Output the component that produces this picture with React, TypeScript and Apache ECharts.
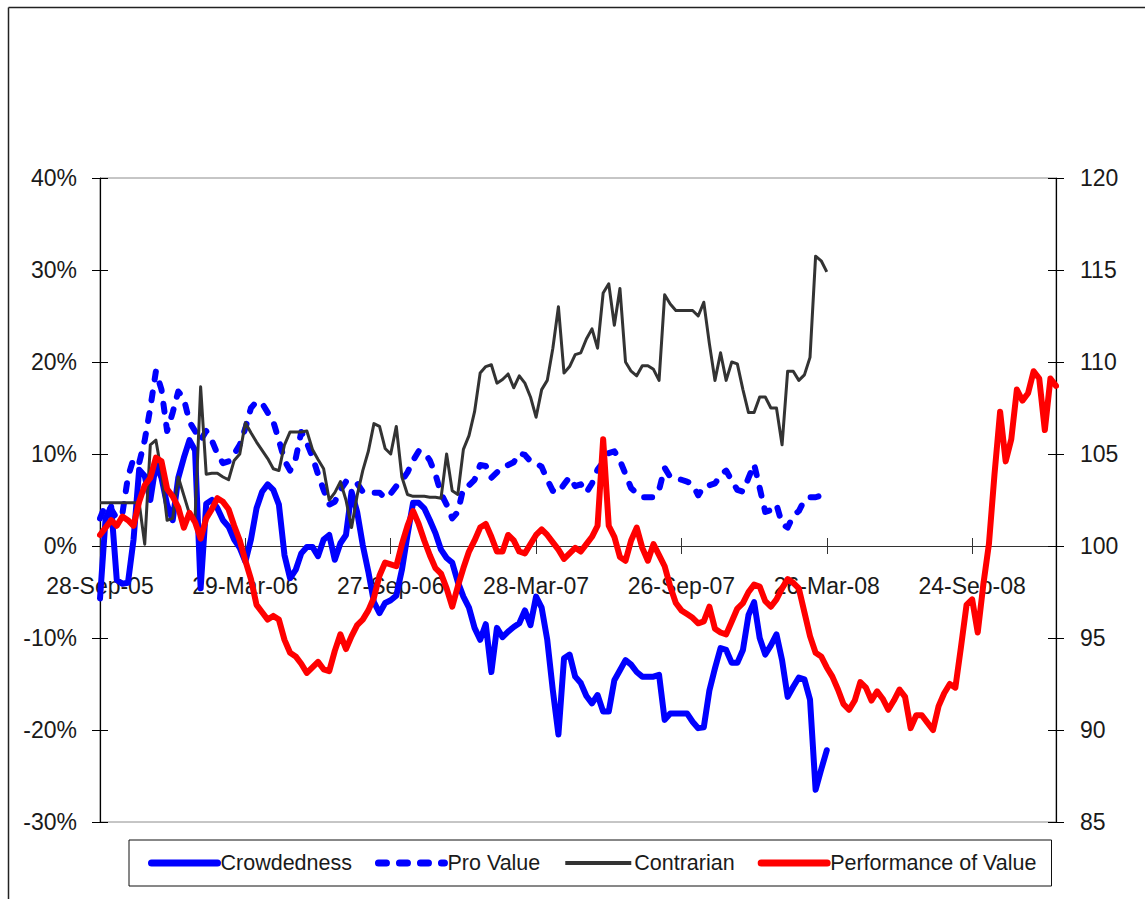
import React, { useEffect, useRef } from "react";
import * as echarts from "echarts";

// Weekly observation dates, starting 28-Sep-05
const START_UTC = Date.UTC(2005, 8, 28);
const WEEK_COUNT = 172;
const MONTHS = ["Jan", "Feb", "Mar", "Apr", "May", "Jun", "Jul", "Aug", "Sep", "Oct", "Nov", "Dec"];

function formatDate(ms: number): string {
  const d = new Date(ms);
  const day = String(d.getUTCDate()).padStart(2, "0");
  const yy = String(d.getUTCFullYear() % 100).padStart(2, "0");
  return `${day}-${MONTHS[d.getUTCMonth()]}-${yy}`;
}

const weeks: string[] = Array.from({ length: WEEK_COUNT }, (_, i) =>
  formatDate(START_UTC + i * 7 * 86400000)
);

// Left axis (%)
const crowdedness = [
  -5.7, 3.0, 4.3, -3.7, -4.1, -4.0, 0.7, 8.3, 7.6, 5.0,
  8.9, 7.4, 4.5, 2.8, 7.4, 9.6, 11.5, 10.4, -4.6, 4.6,
  5.0, 4.1, 2.8, 2.1, 0.7, -0.2, -1.7, 0.7, 4.1, 5.9,
  6.7, 6.1, 4.5, -1.0, -3.5, -2.6, -0.8, -0.1, -0.1, -1.1,
  0.7, 1.2, -1.5, 0.3, 1.2, 5.9, 3.7, 0.1, -2.8, -6.1,
  -7.3, -6.2, -5.9, -5.4, -2.6, 1.2, 4.7, 4.7, 4.1, 2.8,
  1.4, -0.4, -1.3, -1.8, -3.9, -5.5, -6.7, -8.9, -10.2, -8.5,
  -13.7, -8.9, -9.9, -9.3, -8.8, -8.4, -7.0, -8.6, -5.5, -6.7,
  -10.2, -15.7, -20.5, -12.2, -11.8, -14.2, -14.9, -16.3, -17.1, -16.2,
  -18.0, -18.0, -14.6, -13.5, -12.4, -12.9, -13.7, -14.2, -14.2, -14.2,
  -14.0, -18.9, -18.2, -18.2, -18.2, -18.2, -19.1, -19.8, -19.7, -15.7,
  -13.3, -11.1, -11.3, -12.7, -12.7, -11.3, -7.5, -6.1, -10.0, -11.8,
  -10.8, -9.6, -12.4, -16.4, -15.3, -14.3, -14.5, -16.7, -26.5, -24.3,
  -22.2,
];

const proValue = [
  3.0, 4.5, 4.0, 3.0, 3.5, 7.5, 9.5, 9.0, 11.5, 15.0,
  19.0, 17.0, 12.5, 14.5, 16.8, 16.0, 13.5, 12.5, 11.5, 12.5,
  11.5, 10.0, 9.0, 9.2, 10.0, 11.0, 12.8, 15.0, 15.7, 15.5,
  14.5, 13.5, 11.5, 9.3, 8.2, 9.5, 12.4, 11.2, 9.7, 7.8,
  6.1, 4.5, 4.8, 6.1, 7.0, 7.1, 6.8, 5.9, 5.8, 5.8,
  5.8, 5.2, 5.7, 6.5, 7.1, 8.0, 9.3, 10.3, 10.2, 9.3,
  7.8, 5.7, 4.5, 3.0, 3.7, 6.3, 6.6, 7.2, 8.8, 8.7,
  7.4, 8.0, 8.6, 8.8, 9.1, 10.1, 9.9, 9.2, 9.0, 8.6,
  7.2, 6.0, 5.8, 6.7, 7.5, 6.5, 6.7, 5.8, 6.8, 8.3,
  9.1, 10.1, 10.3, 9.3, 7.8, 6.3, 5.7, 5.3, 5.3, 5.3,
  6.1, 8.5, 7.5, 7.3, 7.2, 7.0, 6.7, 5.5, 6.5, 6.6,
  6.8, 7.7, 8.2, 7.1, 6.1, 5.9, 7.4, 8.9, 6.3, 3.7,
  3.9, 4.5, 2.4, 2.0, 3.3, 3.8, 5.0, 5.3, 5.3, 5.5,
  6.1,
];

const contrarian = [
  4.7, 4.7, 4.7, 4.7, 4.7, 4.7, 4.7, 4.7, 0.2, 11.0,
  11.5, 8.0, 2.8, 3.0, 7.5, 5.5, 3.5, 3.0, 17.3, 7.8,
  7.9, 7.9, 7.5, 7.2, 9.3, 10.0, 13.4, 12.3, 11.3, 10.4,
  9.5, 8.4, 8.2, 11.0, 12.4, 12.4, 12.4, 12.5, 10.5, 9.4,
  8.4, 5.0, 5.8, 7.0, 5.0, 2.0, 5.5, 8.2, 10.3, 13.3,
  13.0, 10.6, 10.0, 13.0, 7.5, 5.6, 5.4, 5.4, 5.4, 5.3,
  5.3, 5.2, 10.0, 6.0, 5.6, 10.5, 12.0, 14.6, 18.8, 19.5,
  19.7, 17.7, 18.1, 18.7, 17.2, 18.5, 17.7, 16.2, 14.0, 17.0,
  18.0, 21.5, 26.0, 18.8, 19.5, 20.8, 21.0, 22.5, 23.6, 21.5,
  27.5, 28.5, 24.0, 28.0, 20.0, 19.0, 18.5, 19.6, 19.6, 19.2,
  18.0, 27.3, 26.3, 25.6, 25.6, 25.6, 25.6, 25.0, 26.5, 22.0,
  18.0, 21.0, 18.0, 20.0, 19.8, 17.0, 14.5, 14.5, 16.2, 16.2,
  15.0, 15.0, 11.0, 19.0, 19.0, 18.0, 18.6, 20.5, 31.5, 31.0,
  29.8,
];

// Right axis (index level)
const performanceOfValue = [
  100.6, 101.0, 101.4, 101.1, 101.6, 101.4, 101.1, 102.4, 103.3, 103.7,
  104.8, 104.6, 103.1, 102.7, 102.1, 101.0, 101.8, 101.3, 100.4, 101.5,
  102.0, 102.6, 102.4, 102.0, 101.1, 100.3, 99.2, 98.2, 96.8, 96.4,
  96.0, 96.2, 96.0, 94.9, 94.2, 94.0, 93.6, 93.1, 93.4, 93.7,
  93.3, 93.2, 94.3, 95.2, 94.4, 95.1, 95.7, 96.0, 96.5, 97.2,
  98.4, 99.1, 99.0, 98.9, 100.1, 101.1, 101.9, 101.2, 100.3, 99.5,
  98.8, 98.5, 97.7, 96.7, 97.8, 98.8, 99.7, 100.3, 101.0, 101.2,
  100.5, 99.7, 99.7, 100.6, 100.3, 99.7, 99.6, 100.1, 100.6, 100.9,
  100.6, 100.2, 99.8, 99.3, 99.6, 99.9, 99.7, 100.1, 100.5, 101.1,
  105.8, 101.1, 100.5, 99.4, 99.2, 100.3, 101.0, 99.9, 99.2, 100.1,
  99.5, 98.9, 97.8, 96.9, 96.5, 96.3, 96.1, 95.8, 95.9, 96.7,
  95.5, 95.3, 95.2, 95.9, 96.6, 96.9, 97.5, 97.9, 97.8, 97.0,
  96.7, 97.1, 97.7, 98.2, 98.0, 97.7, 96.4, 95.1, 94.2, 94.0,
  93.4, 92.9, 92.2, 91.4, 91.1, 91.6, 92.6, 92.3, 91.6, 92.1,
  91.7, 91.1, 91.6, 92.2, 91.8, 90.1, 90.8, 90.8, 90.4, 90.0,
  91.3, 92.0, 92.5, 92.3, 94.5, 96.8, 97.1, 95.3, 97.9, 100.1,
  103.9, 107.3, 104.6, 105.8, 108.5, 107.9, 108.3, 109.5, 109.1, 106.3,
  109.1, 108.7,
];

const FONT = "'Liberation Sans', Arial, Helvetica, sans-serif";
const TEXT_COLOR = "#1a1a1a";

// Plot frame (pixels inside the 1145x899 canvas)
const PLOT_LEFT = 100;
const PLOT_RIGHT = 89;
const PLOT_TOP = 178;
const PLOT_BOTTOM = 77;
const ZERO_LINE_Y = 546; // where 0% / 100 sits
const CANVAS_H = 899;

export default function App() {
  const ref = useRef<HTMLDivElement>(null);

  useEffect(() => {
    document.body.style.margin = "0";
    if (!ref.current) return;
    const chart = echarts.init(ref.current, null, { renderer: "svg" });

    const tickEvery = 25; // a labelled tick every 26 weeks (182 days)
    const hiddenY = (gridIndex: number) => ({
      type: "value",
      gridIndex,
      show: false,
      min: 0,
      max: 1,
    });

    chart.setOption({
      animation: false,
      backgroundColor: "#ffffff",
      textStyle: { fontFamily: FONT },
      grid: [
        {
          left: PLOT_LEFT,
          right: PLOT_RIGHT,
          top: PLOT_TOP,
          bottom: PLOT_BOTTOM,
          show: true,
          borderColor: "#8c8c8c",
          borderWidth: 1,
          backgroundColor: "transparent",
        },
        // upper half: its bottom edge is the date axis crossing at zero
        { left: PLOT_LEFT, right: PLOT_RIGHT, top: PLOT_TOP, bottom: CANVAS_H - ZERO_LINE_Y },
        // lower half: its top edge carries the upward half of the date ticks
        { left: PLOT_LEFT, right: PLOT_RIGHT, top: ZERO_LINE_Y, bottom: PLOT_BOTTOM },
      ],
      graphic: [
        {
          type: "line",
          shape: { x1: 8.5, y1: 7.5, x2: 8.5, y2: 899 },
          style: { stroke: "#222", lineWidth: 1.5 },
        },
        {
          type: "line",
          shape: { x1: 8.5, y1: 7.5, x2: 1145, y2: 7.5 },
          style: { stroke: "#222", lineWidth: 1.5 },
        },
      ],
      legend: {
        left: 129,
        top: 840,
        padding: [12, 15, 12, 19],
        itemGap: 23,
        itemWidth: 66,
        itemHeight: 14,
        borderColor: "#111",
        borderWidth: 1,
        backgroundColor: "#fff",
        itemStyle: { opacity: 0 },
        textStyle: { fontFamily: FONT, fontSize: 21.5, color: TEXT_COLOR, padding: [0, 0, 0, -2] },
        data: [
          { name: "Crowdedness", lineStyle: { width: 7 } },
          { name: "Pro Value", lineStyle: { width: 7 } },
          { name: "Contrarian", lineStyle: { width: 4 } },
          { name: "Performance of Value", lineStyle: { width: 7 } },
        ],
      },
      xAxis: [
        {
          type: "category",
          gridIndex: 0,
          data: weeks,
          boundaryGap: false,
          show: false,
        },
        {
          type: "category",
          gridIndex: 1,
          position: "bottom",
          data: weeks,
          boundaryGap: false,
          axisLine: { show: true, onZero: false, lineStyle: { color: "#333", width: 1.2 } },
          axisTick: { show: true, interval: tickEvery, length: 8, lineStyle: { color: "#333" } },
          axisLabel: {
            interval: tickEvery,
            margin: 28,
            fontFamily: FONT,
            fontSize: 23,
            color: TEXT_COLOR,
          },
          splitLine: { show: false },
        },
        {
          type: "category",
          gridIndex: 2,
          position: "top",
          data: weeks,
          boundaryGap: false,
          axisLine: { show: false, onZero: false },
          axisTick: { show: true, interval: tickEvery, length: 8, lineStyle: { color: "#333" } },
          axisLabel: { show: false },
          splitLine: { show: false },
        },
      ],
      yAxis: [
        {
          type: "value",
          gridIndex: 0,
          position: "left",
          min: -30,
          max: 40,
          interval: 10,
          axisLine: { show: true, lineStyle: { color: "#000", width: 1.2 } },
          axisTick: { show: true, length: 8, lineStyle: { color: "#000" } },
          axisLabel: {
            formatter: "{value}%",
            margin: 23,
            fontFamily: FONT,
            fontSize: 23,
            color: TEXT_COLOR,
          },
          splitLine: { show: false },
        },
        {
          type: "value",
          gridIndex: 0,
          position: "right",
          min: 85,
          max: 120,
          interval: 5,
          axisLine: { show: true, lineStyle: { color: "#000", width: 1.2 } },
          axisTick: { show: true, length: 8, lineStyle: { color: "#000" } },
          axisLabel: {
            margin: 24,
            fontFamily: FONT,
            fontSize: 23,
            color: TEXT_COLOR,
          },
          splitLine: { show: false },
        },
        {
          type: "value",
          gridIndex: 0,
          position: "left",
          min: -30,
          max: 40,
          interval: 10,
          axisLine: { show: false },
          axisTick: { show: true, inside: true, length: 8, lineStyle: { color: "#000" } },
          axisLabel: { show: false },
          splitLine: { show: false },
        },
        {
          type: "value",
          gridIndex: 0,
          position: "right",
          min: 85,
          max: 120,
          interval: 5,
          axisLine: { show: false },
          axisTick: { show: true, inside: true, length: 8, lineStyle: { color: "#000" } },
          axisLabel: { show: false },
          splitLine: { show: false },
        },
        hiddenY(1),
        hiddenY(2),
      ],
      series: [
        {
          name: "Crowdedness",
          type: "line",
          xAxisIndex: 0,
          yAxisIndex: 0,
          data: crowdedness,
          symbol: "none",
          color: "#0000ff",
          lineStyle: { color: "#0000ff", width: 6, join: "round", cap: "round" },
          z: 2,
        },
        {
          name: "Pro Value",
          type: "line",
          xAxisIndex: 0,
          yAxisIndex: 0,
          data: proValue,
          symbol: "none",
          color: "#0000ff",
          lineStyle: { color: "#0000ff", width: 6, type: [8, 13], cap: "round", join: "round" },
          z: 3,
        },
        {
          name: "Contrarian",
          type: "line",
          xAxisIndex: 0,
          yAxisIndex: 0,
          data: contrarian,
          symbol: "none",
          color: "#333333",
          lineStyle: { color: "#333333", width: 3, join: "round" },
          z: 4,
        },
        {
          name: "Performance of Value",
          type: "line",
          xAxisIndex: 0,
          yAxisIndex: 1,
          data: performanceOfValue,
          symbol: "none",
          color: "#ff0000",
          lineStyle: { color: "#ff0000", width: 6, join: "round", cap: "round" },
          z: 5,
        },
      ],
    });

    return () => chart.dispose();
  }, []);

  return <div ref={ref} style={{ width: 1145, height: 899 }} />;
}
